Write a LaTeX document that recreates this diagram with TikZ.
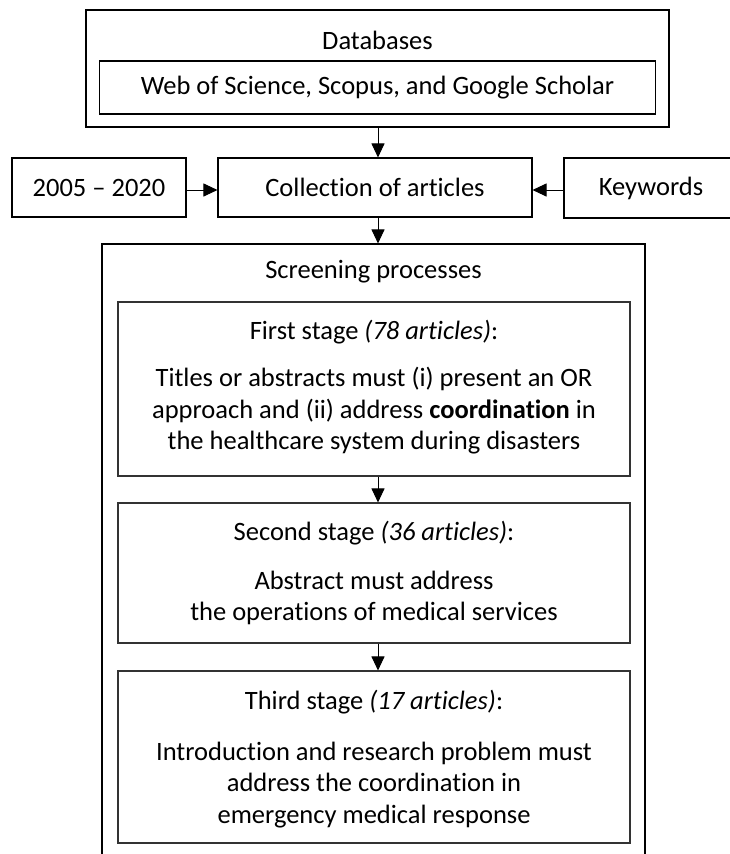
\documentclass[tikz,border=0pt]{standalone}
\usepackage{fontspec}
\setmainfont[Ligatures=NoCommon]{Carlito}
\usetikzlibrary{arrows.meta,calc}

\begin{document}
\begin{tikzpicture}[x=1pt,y=-1pt,
  box/.style={draw=black,line width=1.1pt,rectangle,inner sep=0pt},
  stagebox/.style={draw=black!80,line width=1.1pt,rectangle,inner sep=0pt},
  txt/.style={inner sep=0pt,align=center,font=\fontsize{26.5}{31.5}\selectfont},
  arr/.style={line width=1pt,-{Triangle[length=14pt,width=13pt]}}
]
\useasboundingbox (0,0) rectangle (729,854);

% vertical axis of the flow and the row of the middle boxes
\coordinate (axis) at (378,0);
\coordinate (row) at (0,190);

% sources
\node[box,minimum width=583pt,minimum height=117pt] (db) at (377.5,68.5) {};
\node[txt] (dbtitle) at (377.5,40) {Databases};
\node[box,minimum width=556pt,minimum height=53pt,txt] (dbinner) at (377.5,87.5)
  {Web of Science, Scopus, and Google Scholar};

% collection row
\node[box,minimum width=174pt,minimum height=59pt,txt] (years) at (99,187.5) {2005 -- 2020};
\node[box,minimum width=314pt,minimum height=59pt,txt] (coll) at (375,187.5) {Collection of articles};
\node[box,minimum width=174pt,minimum height=60pt,txt] (kw) at (651,188) {Keywords};

% screening
\node[box,minimum width=543pt,minimum height=626pt] (screen) at (373.5,557) {};
\node[txt] (screentitle) at (373.5,272) {Screening processes};

\node[stagebox,minimum width=512pt,minimum height=174pt] (s1) at (374,389) {};
\node[txt] (s1h) at (374,332) {First stage \textit{(78 articles)}:};
\node[txt] (s1b) at (374,411) {Titles or abstracts must (i) present an OR\\
  approach and (ii) address \textbf{coordination} in\\
  the healthcare system during disasters};

\node[stagebox,minimum width=512pt,minimum height=140pt] (s2) at (374,573) {};
\node[txt] (s2h) at (374,533) {Second stage \textit{(36 articles)}:};
\node[txt] (s2b) at (374,598) {Abstract must address\\the operations of medical services};

\node[stagebox,minimum width=512pt,minimum height=172pt] (s3) at (374,757) {};
\node[txt] (s3h) at (374,702) {Third stage \textit{(17 articles)}:};
\node[txt] (s3b) at (374,785) {Introduction and research problem must\\
  address the coordination in\\emergency medical response};

% connectors
\draw[arr] (db.south -| axis) -- (coll.north -| axis);
\draw[arr] (years.east |- row) -- (coll.west |- row);
\draw[arr] (kw.west |- row) -- (coll.east |- row);
\draw[arr] (coll.south -| axis) -- (screen.north -| axis);
\draw[arr] (s1.south -| axis) -- (s2.north -| axis);
\draw[arr] (s2.south -| axis) -- (s3.north -| axis);
\end{tikzpicture}
\end{document}
